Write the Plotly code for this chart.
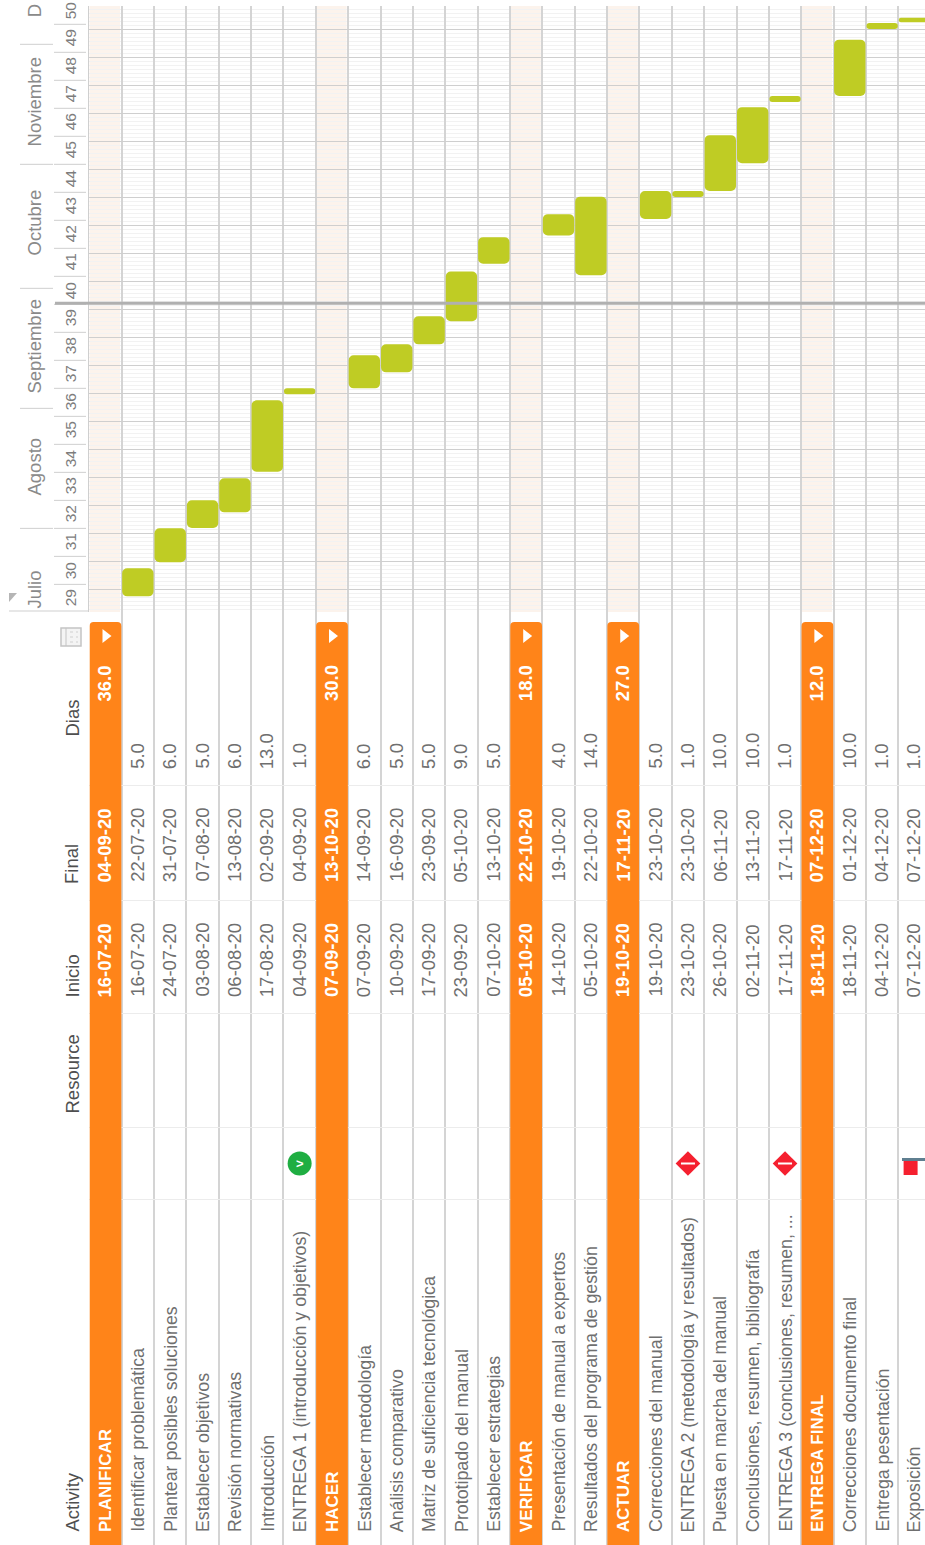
import pandas as pd
import plotly.graph_objects as go

# ---------- data ----------
activities = ["PLANIFICAR", "Identificar problemática", "Plantear posibles soluciones", "Establecer objetivos",
              "Revisión normativas", "Introducción", "ENTREGA 1 (introducción y objetivos)",
              "HACER", "Establecer metodología", "Análisis comparativo", "Matriz de suficiencia tecnológica",
              "Prototipado del manual", "Establecer estrategias",
              "VERIFICAR", "Presentación de manual a expertos", "Resultados del programa de gestión",
              "ACTUAR", "Correcciones del manual", "ENTREGA 2 (metodología y resultados)", "Puesta en marcha del manual",
              "Conclusiones, resumen, bibliografía", "ENTREGA 3 (conclusiones, resumen, ...",
              "ENTREGA FINAL", "Correcciones documento final", "Entrega pesentación", "Exposición"]
inicio = ["16-07-20", "16-07-20", "24-07-20", "03-08-20", "06-08-20", "17-08-20", "04-09-20",
          "07-09-20", "07-09-20", "10-09-20", "17-09-20", "23-09-20", "07-10-20",
          "05-10-20", "14-10-20", "05-10-20",
          "19-10-20", "19-10-20", "23-10-20", "26-10-20", "02-11-20", "17-11-20",
          "18-11-20", "18-11-20", "04-12-20", "07-12-20"]
final = ["04-09-20", "22-07-20", "31-07-20", "07-08-20", "13-08-20", "02-09-20", "04-09-20",
         "13-10-20", "14-09-20", "16-09-20", "23-09-20", "05-10-20", "13-10-20",
         "22-10-20", "19-10-20", "22-10-20",
         "17-11-20", "23-10-20", "23-10-20", "06-11-20", "13-11-20", "17-11-20",
         "07-12-20", "01-12-20", "04-12-20", "07-12-20"]
dias = ["36.0", "5.0", "6.0", "5.0", "6.0", "13.0", "1.0",
        "30.0", "6.0", "5.0", "5.0", "9.0", "5.0",
        "18.0", "4.0", "14.0",
        "27.0", "5.0", "1.0", "10.0", "10.0", "1.0",
        "12.0", "10.0", "1.0", "1.0"]
summary_rows = [0, 7, 13, 16, 22]

task_rows = [1, 2, 3, 4, 5, 6, 8, 9, 10, 11, 12, 14, 15, 17, 18, 19, 20, 21, 23, 24, 25]
bar_start = ["2020-07-16 00:00", "2020-07-24 13:00", "2020-08-02 02:00", "2020-08-06 00:00", "2020-08-16 04:00",
             "2020-09-04 12:00", "2020-09-06 00:00", "2020-09-10 00:00", "2020-09-17 00:00", "2020-09-22 19:00",
             "2020-10-07 03:00", "2020-10-14 05:00", "2020-10-04 07:00", "2020-10-18 08:00", "2020-10-23 20:00",
             "2020-10-25 08:00", "2020-11-01 07:00", "2020-11-16 14:00", "2020-11-18 02:00", "2020-12-04 20:00",
             "2020-12-06 13:00"]
bar_end = ["2020-07-23 00:00", "2020-08-02 00:00", "2020-08-09 00:00", "2020-08-14 12:00", "2020-09-03 00:00",
           "2020-09-06 00:00", "2020-09-14 06:00", "2020-09-17 00:00", "2020-09-24 00:00", "2020-10-05 05:00",
           "2020-10-13 19:00", "2020-10-19 13:00", "2020-10-23 22:00", "2020-10-25 08:00", "2020-10-25 08:00",
           "2020-11-08 07:00", "2020-11-15 07:00", "2020-11-18 02:00", "2020-12-02 04:00", "2020-12-06 08:00",
           "2020-12-07 16:00"]

week_labels = list(range(29, 51))
week_centers = pd.date_range("2020-07-15 12:00", periods=22, freq="7D")
week_ticks = pd.date_range("2020-07-19", periods=21, freq="7D")
month_labels = ["Julio", "Agosto", "Septiembre", "Octubre", "Noviembre", "D"]
month_centers = ["2020-07-17 14:00", "2020-08-17 08:00", "2020-09-16 14:00", "2020-10-17 08:00", "2020-11-16 14:00", "2020-12-09 10:00"]
month_starts = ["2020-08-02", "2020-09-01", "2020-10-01", "2020-11-01", "2020-12-01"]
today = "2020-09-27 07:00"
headers = ["Activity", "Resource", "Inicio", "Final", "Dias"]

# ---------- layout constants ----------
W, H = 925, 1545
GANTT_BOTTOM, GANTT_TOP = 612, 6
LEFT = 89.3
ROW = 32.36
TEXT = "#6f6f6f"
HEAD = "#4f4f4f"
ORANGE = "#ff8419"
LIME = "#bfcc24"
FONT = "Liberation Sans, Arial, sans-serif"

def px(x):
    return x / W

def py(y):
    return 1 - y / H

fig = go.Figure()

# summary rows: rounded orange bands in the table
fig.add_trace(go.Bar(x=[r + 0.5 for r in summary_rows], y=[938] * len(summary_rows), base=[622] * len(summary_rows),
                     yaxis="y2", width=0.98, marker=dict(color=ORANGE, cornerradius=4, line_width=0), hoverinfo="skip"))
fig.add_trace(go.Scatter(x=[r + 0.5 for r in summary_rows], y=[636] * len(summary_rows), yaxis="y2", mode="markers",
                         marker=dict(symbol="triangle-right", size=12, color="white"), hoverinfo="skip"))

# gantt bars
starts = pd.to_datetime(bar_start)
ends = pd.to_datetime(bar_end)
dur_ms = [(e - s).total_seconds() * 1000 for s, e in zip(starts, ends)]
fig.add_trace(go.Bar(x=[r + 0.5 for r in task_rows], y=dur_ms, base=bar_start, yaxis="y", width=0.97,
                     marker=dict(color=LIME, cornerradius=5, line_width=0), hoverinfo="skip"))

# status icons
fig.add_trace(go.Scatter(x=[6.5], y=[1163.5], yaxis="y2", mode="markers",
                         marker=dict(symbol="circle", size=24, color="#1fae42"), hoverinfo="skip"))
fig.add_trace(go.Scatter(x=[18.5, 21.5], y=[1163.5, 1163.5], yaxis="y2", mode="markers",
                         marker=dict(symbol="diamond", size=19, color="#f5202f"), hoverinfo="skip"))
fig.add_trace(go.Scatter(x=[18.5, 21.5], y=[1163.5, 1163.5], yaxis="y2", mode="markers",
                         marker=dict(symbol="line-ew", size=10, line=dict(color="white", width=2)), hoverinfo="skip"))
fig.add_trace(go.Scatter(x=[25.38], y=[1168], yaxis="y2", mode="markers",
                         marker=dict(symbol="square", size=14, color="#f5202f"), hoverinfo="skip"))

ann = []

def note(text, x, y, xref="x", yref="y2", anchor="bottom", size=17.8, color=TEXT, bold=False, angle=-90):
    ann.append(dict(text=f"<b>{text}</b>" if bold else text, x=x, y=y, xref=xref, yref=yref, showarrow=False,
                    textangle=angle, xanchor="center", yanchor=anchor, borderpad=0,
                    font=dict(family=FONT, size=size, color=color)))

for r, (a, i, f, d) in enumerate(zip(activities, inicio, final, dias)):
    xc = r + 0.5
    if r in summary_rows:
        note(a, xc, 1533, size=17, color="white", bold=True)
        note(i, xc, 998, size=18.5, color="white", bold=True)
        note(f, xc, 883, size=18.5, color="white", bold=True)
        note(d, xc, 702, size=18.5, color="white", bold=True)
    else:
        note(a, xc, 1533)
        note(i, xc, 998, size=18.5)
        note(f, xc, 883, size=18.5)
        note(d, xc, 770, size=18.5)

for h, y in zip(headers, [1533, 1115, 999, 885, 738]):
    note(h, px(72), y, xref="paper", size=18.5, color=HEAD)

for w, c in zip(week_labels, week_centers):
    note(str(w), px(70), c.strftime("%Y-%m-%d %H:%M"), xref="paper", yref="y", anchor="middle", size=15.5, color="#7d7d7d")
for m, c in zip(month_labels, month_centers):
    note(m, px(34.5), c, xref="paper", yref="y", anchor="middle", size=18.5, color="#8a8a8a")

note("&gt;", 6.5, 1163.5, anchor="middle", size=13, color="white", bold=True, angle=0)

shapes = []
for r in summary_rows:
    shapes.append(dict(type="rect", layer="below", xref="x", yref="y domain", x0=r, x1=r + 0.95, y0=0, y1=1,
                       fillcolor="#fcf3ec", line_width=0))
for t in week_ticks:
    shapes.append(dict(type="line", xref="paper", yref="y", x0=px(54), x1=px(86), y0=t, y1=t,
                       line=dict(color="#cfcfcf", width=1)))
for m in month_starts:
    shapes.append(dict(type="line", xref="paper", yref="y", x0=px(20), x1=px(53), y0=m, y1=m,
                       line=dict(color="#cfcfcf", width=1)))
# today line
shapes.append(dict(type="line", layer="above", xref="paper", yref="y", x0=px(55), x1=1, y0=today, y1=today,
                   line=dict(color="#b0b0b0", width=3)))
# header baseline, sort triangle and calendar icon
shapes.append(dict(type="line", xref="paper", yref="paper", x0=px(9), x1=px(89), y0=py(611), y1=py(611),
                   line=dict(color="#cfcfcf", width=1)))
shapes.append(dict(type="path", xref="paper", yref="paper", line_width=0, fillcolor="#b5b5b5",
                   path=f"M {px(9)} {py(593)} L {px(17)} {py(593)} L {px(9)} {py(602)} Z"))
shapes.append(dict(type="rect", xref="paper", yref="paper", x0=px(61), x1=px(81), y0=py(646), y1=py(628),
                   line=dict(color="#c4c4c4", width=1.5), fillcolor="#f4f4f4"))
shapes.append(dict(type="line", xref="paper", yref="paper", x0=px(66), x1=px(66), y0=py(646), y1=py(628),
                   line=dict(color="#c4c4c4", width=1)))
for yy in (632, 637, 642):
    shapes.append(dict(type="line", xref="paper", yref="paper", x0=px(70), x1=px(78), y0=py(yy), y1=py(yy),
                       line=dict(color="#d0d0d0", width=1, dash="dot")))
# presentation marker bar
shapes.append(dict(type="line", layer="above", xref="paper", yref="y2", x0=px(902), x1=1, y0=1159.5, y1=1159.5,
                   line=dict(color="#5f7f90", width=3)))

major = 7 * 86400000
fig.update_layout(
    width=W, height=H, margin=dict(l=0, r=0, t=0, b=0), autosize=False, showlegend=False, barmode="overlay",
    paper_bgcolor="white", plot_bgcolor="white", annotations=ann, shapes=shapes,
    font=dict(family=FONT),
    xaxis=dict(domain=[px(LEFT), 1], range=[0, (W - LEFT) / ROW], tick0=0, dtick=1, showgrid=True,
               gridcolor="#d4d4d4", gridwidth=1.5, showticklabels=False, zeroline=False, ticks="", anchor="y2"),
    yaxis=dict(type="date", domain=[py(GANTT_BOTTOM), py(GANTT_TOP)], range=["2020-07-12 02:13", "2020-12-10 13:48"],
               tick0="2020-07-17 19:48", dtick=major, showgrid=True, gridcolor="#cfcfcf", gridwidth=1.3,
               minor=dict(showgrid=True, dtick=86400000, tick0="2020-07-17 19:48", gridcolor="#f2f2f2", gridwidth=1),
               showticklabels=False, ticks="", showline=True, linecolor="#cfcfcf", linewidth=1, zeroline=False, anchor="x"),
    yaxis2=dict(domain=[0, py(GANTT_BOTTOM)], range=[H, GANTT_BOTTOM], tickmode="array",
                tickvals=[785.7, 900, 1013, 1127, 1199], showgrid=True, gridcolor="#ececec", gridwidth=1.2,
                showticklabels=False, ticks="", zeroline=False, anchor="x"),
)

fig.write_html("out.html", config={"displayModeBar": False},
               post_script="document.body.style.margin='0';document.body.style.overflow='hidden';")
